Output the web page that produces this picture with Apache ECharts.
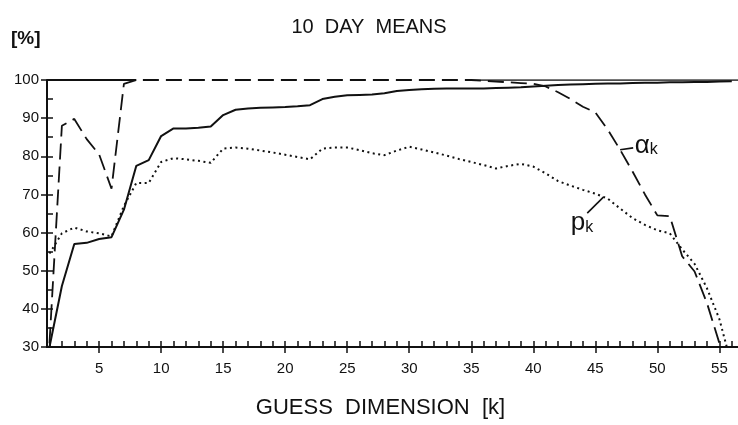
<!DOCTYPE html>
<html>
<head>
<meta charset="utf-8">
<script src="https://cdn.jsdelivr.net/npm/echarts@6/dist/echarts.min.js"></script>
<style>html,body{margin:0;padding:0;background:#fff}#c{width:738px;height:425px}</style>
</head>
<body>
<div id="c"></div>
<script>
// Guess dimension k (x) and values in percent
const kValues = [1,2,3,4,5,6,7,8,9,10,11,12,13,14,15,16,17,18,19,20,21,22,23,24,25,26,27,28,29,30,31,32,33,34,35,36,37,38,39,40,41,42,43,44,45,46,47,48,49,50,51,52,53,54,55,56];
// alpha_k (dashed)
const alphaValues = [31,88,89.8,84.5,80.5,71.5,99,100,100,100,100,100,100,100,100,100,100,100,100,100,100,100,100,100,100,100,100,100,100,100,100,100,100,100,100,99.8,99.6,99.4,99.2,99.0,98.3,96.8,95,93,91.5,87,81.7,76,70,64.5,64.3,53.8,49.8,41.5,31,null];
// solid curve
const solidValues = [30,46,57,57.3,58.3,58.8,66,77.5,79,85.3,87.3,87.3,87.5,87.8,90.8,92.2,92.5,92.7,92.8,92.9,93.1,93.4,95,95.6,96,96.1,96.2,96.5,97.1,97.4,97.6,97.7,97.8,97.8,97.8,97.8,97.9,98.0,98.1,98.3,98.5,98.7,98.8,98.9,99.0,99.1,99.1,99.2,99.3,99.3,99.4,99.4,99.5,99.5,99.6,99.7];
// p_k (dotted)
const pValues = [54.5,59.8,61.3,60.3,59.8,59,67,73,73,78.5,79.5,79.2,78.8,78.3,82,82.3,82,81.5,81,80.4,79.8,79.2,82,82.3,82.3,81.6,80.8,80.3,81.5,82.5,81.8,81,80.2,79.3,78.5,77.7,76.8,77.5,78,77.3,75.5,73.5,72.3,71.2,70.2,68.9,66.3,63.8,62,60.6,59.8,55.6,51.8,45.4,37.3,25];
// 100 % reference line segments
const refLeftK = [0.8, 8];
const refRightK = [35, 56.5];
const refValue = 100;
// axis ticks / labels
const xMajorTicks = [5,10,15,20,25,30,35,40,45,50,55];
const xMinorTicks = [1,2,3,4,5,6,7,8,9,10,11,12,13,14,15,16,17,18,19,20,21,22,23,24,25,26,27,28,29,30,31,32,33,34,35,36,37,38,39,40,41,42,43,44,45,46,47,48,49,50,51,52,53,54,55,56];
const yTicks = [30,40,50,60,70,80,90,100];
// curve labels: leader from/to (data coords)
const alphaLeader = [[47.0, 81.7],[48.05, 82.2]];
const pLeader = [[44.35, 65.1],[45.65, 69.3]];

const pair = (ks, vs) => ks.map((k, i) => [k, vs[i]]);
const ink = '#111';
const font = 'Liberation Sans';

const chart = echarts.init(document.getElementById('c'), null, {renderer: 'canvas'});
const xCommon = {type: 'value', min: 0.8, max: 56.5, splitLine: {show: false}};
const yCommon = {type: 'value', min: 30, max: 100, interval: 10, splitLine: {show: false}};

chart.setOption({
  animation: false,
  backgroundColor: '#fff',
  title: [
    {text: '10  DAY  MEANS', left: 'center', top: 12, textStyle: {fontFamily: font, fontSize: 20, fontWeight: 'normal', color: ink}},
    {text: '[%]', left: 6, top: 24, textStyle: {fontFamily: font, fontSize: 19, fontWeight: 'bold', color: ink}}
  ],
  grid: {left: 47, right: 0, top: 80, bottom: 78, containLabel: false},
  xAxis: [
    Object.assign({}, xCommon, {
      position: 'bottom',
      axisLine: {show: true, lineStyle: {color: ink, width: 2}},
      axisTick: {show: true, inside: true, customValues: xMinorTicks, length: 6, lineStyle: {color: ink, width: 1.5}},
      axisLabel: {show: true, customValues: xMajorTicks, margin: 14, fontFamily: font, fontSize: 15, color: ink},
      name: 'GUESS  DIMENSION  [k]', nameLocation: 'middle', nameGap: 50,
      nameTextStyle: {fontFamily: font, fontSize: 22, color: ink, padding: [0, 24, 0, 0]}
    }),
    Object.assign({}, xCommon, {
      position: 'bottom', offset: 0,
      axisLine: {show: true, lineStyle: {color: ink, width: 2}},
      axisTick: {show: true, inside: false, customValues: xMajorTicks, length: 6, lineStyle: {color: ink, width: 1.5}},
      axisLabel: {show: false, customValues: xMajorTicks}
    })
  ],
  yAxis: [
    Object.assign({}, yCommon, {
      position: 'left',
      axisLine: {show: true, lineStyle: {color: ink, width: 2}},
      axisTick: {show: true, length: 6, lineStyle: {color: ink, width: 1.5}},
      axisLabel: {show: true, margin: 8, fontFamily: font, fontSize: 15, color: ink,
        formatter: v => yTicks.indexOf(v) >= 0 ? String(v) : ''}
    }),
    Object.assign({}, yCommon, {
      position: 'left',
      axisLine: {show: false},
      axisTick: {show: true, inside: true, length: 6, lineStyle: {color: ink, width: 1.5}},
      minorTick: {show: true, splitNumber: 2, length: 6, lineStyle: {color: ink, width: 1.5}},
      axisLabel: {show: false}
    })
  ],
  series: [
    {
      name: 'ref-left', type: 'line', symbol: 'none', silent: true,
      data: refLeftK.map(k => [k, refValue]),
      lineStyle: {color: ink, width: 2, type: 'solid'}
    },
    {
      name: 'ref-right', type: 'line', symbol: 'none', silent: true,
      data: refRightK.map(k => [k, refValue]),
      lineStyle: {color: ink, width: 1.6, type: 'solid'}
    },
    {
      name: 'solid', type: 'line', symbol: 'none', clip: true,
      data: pair(kValues, solidValues),
      lineStyle: {color: ink, width: 2, type: 'solid'}
    },
    {
      name: 'p_k', type: 'line', symbol: 'none', clip: true,
      data: pair(kValues, pValues),
      lineStyle: {color: ink, width: 2, type: [2, 3.5]},
      markLine: {
        silent: true, symbol: ['none', 'none'], label: {show: false},
        lineStyle: {color: ink, width: 1.6, type: 'solid'},
        data: [[{coord: pLeader[0]}, {coord: pLeader[1]}]]
      },
      markPoint: {
        symbol: 'circle', symbolSize: 1, itemStyle: {color: 'rgba(0,0,0,0)'},
        data: [{coord: pLeader[0], value: 'p',
          label: {show: true, position: [-16, -3], align: 'left', verticalAlign: 'top',
            formatter: '{a|p}{s|k}',
            rich: {a: {fontFamily: font, fontSize: 26, color: ink}, s: {fontFamily: font, fontSize: 16, color: ink, padding: [9, 0, 0, 0]}}}}]
      }
    },
    {
      name: 'alpha_k', type: 'line', symbol: 'none', clip: true,
      data: pair(kValues, alphaValues),
      lineStyle: {color: ink, width: 1.8, type: [16, 7]},
      markLine: {
        silent: true, symbol: ['none', 'none'], label: {show: false},
        lineStyle: {color: ink, width: 1.6, type: 'solid'},
        data: [[{coord: alphaLeader[0]}, {coord: alphaLeader[1]}]]
      },
      markPoint: {
        symbol: 'circle', symbolSize: 1, itemStyle: {color: 'rgba(0,0,0,0)'},
        data: [{coord: alphaLeader[1], value: 'a',
          label: {show: true, position: [2, -15], align: 'left', verticalAlign: 'top',
            formatter: '{a|α}{s|k}',
            rich: {a: {fontFamily: font, fontSize: 26, color: ink}, s: {fontFamily: font, fontSize: 16, color: ink, padding: [9, 0, 0, 0]}}}}]
      }
    }
  ]
});
</script>
</body>
</html>
